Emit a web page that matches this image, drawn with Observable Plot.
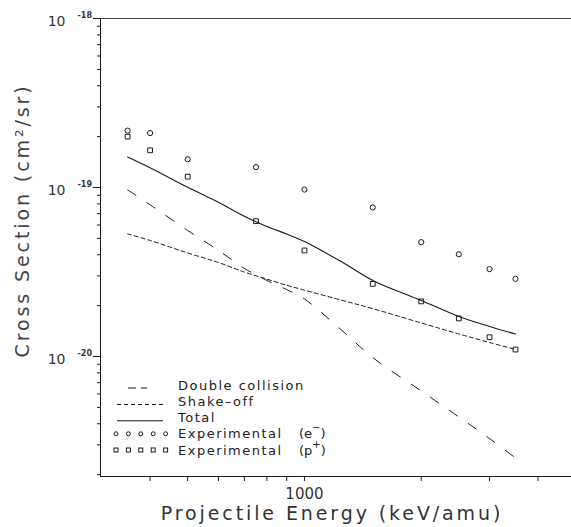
<!DOCTYPE html>
<html><head><meta charset="utf-8">
<script src="https://cdn.jsdelivr.net/npm/d3@7"></script>
<script src="https://cdn.jsdelivr.net/npm/@observablehq/plot@0.6"></script>
<style>
body{margin:0;overflow:hidden;background:#fff;}
#wrap{position:relative;width:571px;height:527px;}
#legend{position:absolute;left:0;top:0;pointer-events:none;}
</style></head><body><div id="wrap"></div>
<script>
// ---- data ----
const energies = [350, 400, 500, 600, 700, 800, 900, 1000, 1250, 1500, 2000, 2500, 3000, 3500];
const doubleCollision = [9.69e-20, 7.90e-20, 5.57e-20, 4.25e-20, 3.32e-20, 2.82e-20, 2.49e-20, 2.19e-20, 1.425e-20, 9.86e-21, 6.25e-21, 4.39e-21, 3.27e-21, 2.51e-21];
const shakeOff = [5.32e-20, 4.86e-20, 4.10e-20, 3.60e-20, 3.16e-20, 2.87e-20, 2.64e-20, 2.47e-20, 2.15e-20, 1.92e-20, 1.58e-20, 1.36e-20, 1.21e-20, 1.10e-20];
const total = [1.515e-19, 1.308e-19, 1.003e-19, 8.17e-20, 6.76e-20, 5.88e-20, 5.31e-20, 4.79e-20, 3.62e-20, 2.82e-20, 2.145e-20, 1.725e-20, 1.505e-20, 1.358e-20];
const expEnergies = [350, 400, 500, 750, 1000, 1500, 2000, 2500, 3000, 3500];
const expElectron = [2.17e-19, 2.10e-19, 1.47e-19, 1.32e-19, 9.73e-20, 7.62e-20, 4.75e-20, 4.03e-20, 3.29e-20, 2.88e-20];
const expProton = [2.00e-19, 1.66e-19, 1.16e-19, 6.32e-20, 4.24e-20, 2.69e-20, 2.12e-20, 1.68e-20, 1.30e-20, 1.10e-20];
const xTicks = [400, 500, 600, 700, 800, 900, 1000, 2000, 3000, 4000];
const xLabelledTicks = [1000];
const yMajorTicks = [1e-20, 1e-19, 1e-18];
const yTickBase = "10";
const yTickExponents = ["-20", "-19", "-18"];
const xDomain = [298, 4880];
const yDomain = [1.95e-21, 1e-18];
const xTitle = "Projectile Energy (keV/amu)";
const yTitle = "Cross Section (cm\u00B2/sr)";
const legendLabels = ["Double collision", "Shake\u2013off", "Total", "Experimental", "Experimental"];
const legendParticles = ["e", "p"];
const legendCharges = ["\u2212", "+"];

// ---- derived tables ----
const curve = (vals) => energies.map((e, i) => ({e, v: vals[i]}));
const dcData = curve(doubleCollision), soData = curve(shakeOff), totData = curve(total);
const eData = expEnergies.map((e, i) => ({e, v: expElectron[i]}));
const pData = expEnergies.map((e, i) => ({e, v: expProton[i]}));
const yMinorTicks = [];
for (let p = -22; p <= -19; p++) for (let m = 2; m <= 9; m++) {
  const v = m * Math.pow(10, p);
  if (v >= yDomain[0] && v <= yDomain[1]) yMinorTicks.push(v);
}
const yLabels = yMajorTicks.map((v, i) => ({v, exp: yTickExponents[i]}));

const ink = "#1a1a1a";
const chart = Plot.plot({
  width: 571, height: 527,
  marginLeft: 100, marginRight: 0, marginTop: 18, marginBottom: 51,
  style: {fontFamily: "DejaVu Sans", color: ink, background: "#fff", fontSize: "13px"},
  x: {type: "log", domain: xDomain},
  y: {type: "log", domain: yDomain},
  marks: [
    Plot.axisX({ticks: xTicks, tickSize: 5, tickPadding: 7, label: null,
      tickFormat: d => xLabelledTicks.includes(d) ? String(d) : "", fontSize: 15, stroke: ink, fill: "#333"}),
    Plot.axisY({ticks: yMajorTicks, tickSize: 7, label: null, tickFormat: () => "", stroke: ink}),
    Plot.axisY({ticks: yMinorTicks, tickSize: 3, label: null, tickFormat: () => "", stroke: ink}),
    Plot.ruleX([xDomain[0]], {stroke: ink, strokeWidth: 1}),
    Plot.ruleY([yDomain[0]], {stroke: ink, strokeWidth: 1}),
    Plot.ruleY([yDomain[1]], {stroke: "#444", strokeWidth: 1}),
    Plot.text(yLabels, {y: "v", text: () => yTickBase, frameAnchor: "left", dx: -35, dy: 3, textAnchor: "end", lineAnchor: "middle", fontSize: 14, fill: "#333"}),
    Plot.text(yLabels, {y: "v", text: "exp", frameAnchor: "left", dx: -23, dy: -3, textAnchor: "start", lineAnchor: "middle", fontSize: 8, fontWeight: "bold", fill: "#333"}),
    Plot.text([xTitle], {frameAnchor: "bottom", dx: -4, dy: 37, textAnchor: "middle", lineAnchor: "middle", fontSize: 19, fill: "#333"}),
    Plot.text([yTitle], {frameAnchor: "left", dx: -78, dy: -27, rotate: -90, textAnchor: "middle", lineAnchor: "middle", fontSize: 19, fill: "#444"}),
    Plot.line(dcData, {x: "e", y: "v", stroke: ink, strokeWidth: 1, strokeDasharray: "10,13", curve: "catmull-rom"}),
    Plot.line(soData, {x: "e", y: "v", stroke: ink, strokeWidth: 1, strokeDasharray: "4,3", curve: "catmull-rom"}),
    Plot.line(totData, {x: "e", y: "v", stroke: ink, strokeWidth: 1.1, curve: "catmull-rom"}),
    Plot.dot(eData, {x: "e", y: "v", r: 2.6, stroke: ink, strokeWidth: 1, fill: "none"}),
    Plot.dot(pData, {x: "e", y: "v", r: 2.7, symbol: "square", stroke: ink, strokeWidth: 1, fill: "none"})
  ]
});
const wrap = document.getElementById("wrap");
wrap.appendChild(chart);
d3.select(chart).selectAll("text").filter(function() { return this.textContent === xTitle || this.textContent === yTitle; })
  .style("letter-spacing", "2.9px");

// ---- legend (overlay inside the plot area) ----
const lg = d3.select(wrap).append("svg").attr("id", "legend").attr("width", 571).attr("height", 527)
  .style("font-family", "DejaVu Sans").style("font-size", "13px");
const baselines = [389.5, 406, 422.3, 438.3, 454.5];
const textX = 178;
legendLabels.forEach((lab, i) => {
  lg.append("text").attr("x", textX).attr("y", baselines[i]).attr("fill", "#222")
    .style("letter-spacing", "1.5px").text(lab);
});
lg.append("line").attr("x1", 128).attr("x2", 160).attr("y1", baselines[0] - 1.5).attr("y2", baselines[0] - 1.5)
  .attr("stroke", ink).attr("stroke-dasharray", "8,5,6,20");
lg.append("line").attr("x1", 117).attr("x2", 163).attr("y1", baselines[1] - 1.5).attr("y2", baselines[1] - 1.5)
  .attr("stroke", ink).attr("stroke-dasharray", "4,3");
lg.append("line").attr("x1", 117).attr("x2", 163).attr("y1", baselines[2] - 1.5).attr("y2", baselines[2] - 1.5)
  .attr("stroke", ink);
for (let k = 0; k < 5; k++) {
  const cx = 116 + k * 12.4;
  lg.append("circle").attr("cx", cx).attr("cy", baselines[3] - 4.5).attr("r", 2)
    .attr("fill", "none").attr("stroke", ink);
  lg.append("rect").attr("x", cx - 2).attr("y", baselines[4] - 6.5).attr("width", 4).attr("height", 4)
    .attr("fill", "none").attr("stroke", ink);
}
legendParticles.forEach((p, i) => {
  const t = lg.append("text").attr("x", 299).attr("y", baselines[3 + i]).attr("fill", "#222");
  t.append("tspan").text("(" + p);
  t.append("tspan").attr("dy", -7).style("font-size", "10px").text(legendCharges[i]);
  t.append("tspan").attr("dy", 7).text(")");
});
</script></body></html>
